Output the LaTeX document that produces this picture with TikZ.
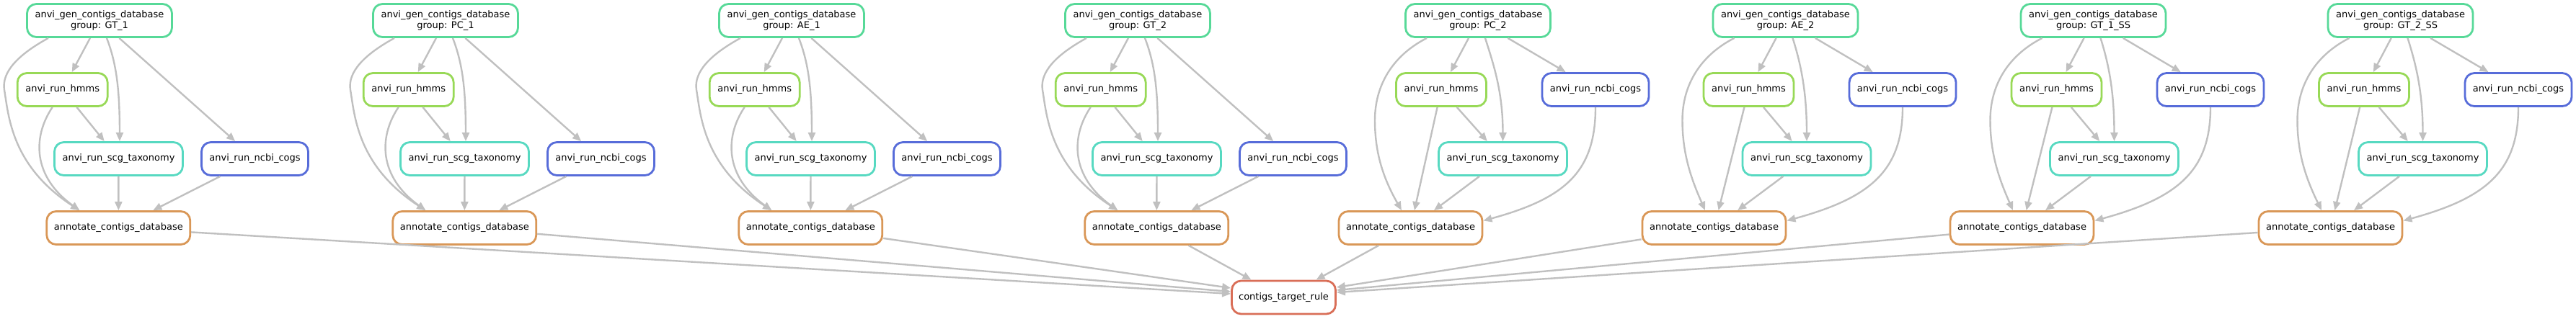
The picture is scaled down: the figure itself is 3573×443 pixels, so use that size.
\documentclass[tikz,border=0pt]{standalone}
\usepackage{fontspec}
\setmainfont{DejaVu Sans}
\usetikzlibrary{arrows.meta}
\definecolor{cgen}{RGB}{87,217,152}
\definecolor{chmm}{RGB}{152,217,87}
\definecolor{cscg}{RGB}{87,217,193}
\definecolor{cncbi}{RGB}{87,108,217}
\definecolor{cann}{RGB}{217,151,87}
\definecolor{ctgt}{RGB}{217,110,87}
\definecolor{cedge}{RGB}{192,192,192}
\tikzset{
 nbox/.style={draw, rounded corners=13pt, line width=2.8pt, minimum height=46pt, inner sep=0pt, align=center, font=\fontsize{13}{15.5}\selectfont, text=black, fill=white},
 sgen/.style={nbox, draw=cgen, minimum width=201pt},
 shmm/.style={nbox, draw=chmm, minimum width=125pt},
 sscg/.style={nbox, draw=cscg, minimum width=178pt},
 sncbi/.style={nbox, draw=cncbi, minimum width=148pt},
 sann/.style={nbox, draw=cann, minimum width=199pt},
 stgt/.style={nbox, draw=ctgt, minimum width=144pt},
 edg/.style={draw=cedge, line width=2.4pt, -{Triangle[length=12pt,width=10pt]}},
}
\newcommand{\grpA}[3]{%
\begin{scope}[xshift=#2pt]
 \node[sgen] (g#1) at (0,28.5) {anvi\_gen\_contigs\_database\\group: #3};
 \node[shmm] (h#1) at (-51.3,124.5) {anvi\_run\_hmms};
 \node[sscg] (s#1) at (26.5,220.5) {anvi\_run\_scg\_taxonomy};
 \node[sncbi] (n#1) at (215.5,220.5) {anvi\_run\_ncbi\_cogs};
 \node[sann] (a#1) at (26.3,316.5) {annotate\_contigs\_database};
 \draw[edg] (g#1) -- (h#1);
 \draw[edg] (h#1) -- (s#1);
 \draw[edg] (g#1) -- (n#1);
 \draw[edg] (s#1) -- (a#1);
 \draw[edg] (n#1) -- (a#1);
 \draw[edg] ([xshift=10pt]g#1.south) .. controls (24,89) and (28,126) .. ([xshift=1.5pt]s#1.north);
 \draw[edg] ([xshift=-71pt]g#1.south) .. controls (-113,76) and (-136,100) .. (-132,125) .. controls (-126,160) and (-123,230) .. ([xshift=-54pt]a#1.north);
 \draw[edg] ([xshift=-14pt]h#1.south) .. controls (-93,190) and (-93,245) .. ([xshift=-54pt]a#1.north);
\end{scope}}
\newcommand{\grpB}[7]{%
\begin{scope}[xshift=#2pt]
 \node[sgen] (g#1) at (0,28.5) {anvi\_gen\_contigs\_database\\group: #3};
 \node[shmm] (h#1) at (#4,124.5) {anvi\_run\_hmms};
 \node[sscg] (s#1) at (#5,220.5) {anvi\_run\_scg\_taxonomy};
 \node[sncbi] (n#1) at (#6,124.5) {anvi\_run\_ncbi\_cogs};
 \node[sann] (a#1) at (#7,316.5) {annotate\_contigs\_database};
 \draw[edg] (g#1) -- (h#1);
 \draw[edg] (g#1) -- (n#1);
 \draw[edg] (h#1) -- (s#1);
 \draw[edg] (s#1) -- (a#1);
 \draw[edg] (h#1) -- (a#1);
 \draw[edg] ([xshift=10pt]g#1.south) .. controls +(11,35) and +(0,-70) .. (s#1.north);
 \draw[edg] ([xshift=-71pt]g#1.south) .. controls (-120,78) and (-143,120) .. (-143,167) .. controls (-143,215) and (-130,250) .. ([xshift=-12.5pt]a#1.north);
 \draw[edg] (n#1.south) .. controls +(0,90) and +(113,-31) .. ([yshift=10pt]a#1.east);
\end{scope}}
\begin{document}
\begin{tikzpicture}[x=1pt,y=-1pt]
\useasboundingbox (0,0) rectangle (3573,443);
\grpA{1}{138}{GT\_1}
\grpA{2}{618}{PC\_1}
\grpA{3}{1098}{AE\_1}
\grpA{4}{1578}{GT\_2}
\grpB{5}{2050}{PC\_2}{-51}{34.5}{163}{-93.5}
\grpB{6}{2476.5}{AE\_2}{-51}{29.5}{162.5}{-99}
\grpB{7}{2903.5}{GT\_1\_SS}{-51}{29}{162.5}{-99}
\grpB{8}{3329.5}{GT\_2\_SS}{-50.5}{31}{163.5}{-97}
\node[stgt] (t) at (1780.5,413) {contigs\_target\_rule};
\draw[edg] (a1) -- ([yshift=5pt]t.west);
\draw[edg] (a2) -- ([yshift=8pt]t.west);
\draw[edg] (a3) -- ([yshift=13pt]t.west);
\draw[edg] (a4) -- ([xshift=-45pt]t.north);
\draw[edg] (a5) -- ([xshift=45pt]t.north);
\draw[edg] (a6) -- ([yshift=14pt]t.east);
\draw[edg] (a7) -- ([yshift=10pt]t.east);
\draw[edg] (a8) -- ([yshift=7pt]t.east);
\end{tikzpicture}
\end{document}
